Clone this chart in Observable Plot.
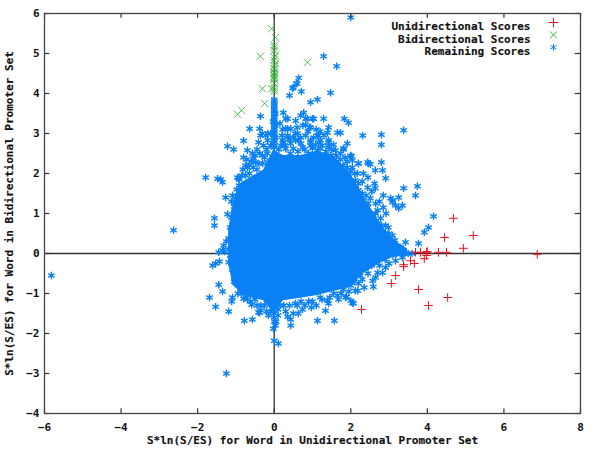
<!DOCTYPE html>
<html><head><meta charset="utf-8">
<script src="https://cdn.jsdelivr.net/npm/d3@7"></script>
<script src="https://cdn.jsdelivr.net/npm/@observablehq/plot@0.6"></script>
<style>html,body{margin:0;padding:0;background:#fff}svg{display:block}</style>
</head><body><div id="chart"></div>
<script>
const xTicks = [-6,-4,-2,0,2,4,6,8];
const yTicks = [-4,-3,-2,-1,0,1,2,3,4,5,6];
const xTitle = "S*ln(S/ES) for Word in Unidirectional Promoter Set";
const yTitle = "S*ln(S/ES) for Word in Bidirectional Promoter Set";
const seriesNames = ["Unidirectional Scores","Bidirectional Scores","Remaining Scores"];
const symbols = ["plus","times","asterisk"];
const colors = ["#f01020","#30b030","#0a80f5"];

const unidirectional = [[4.68,.88],[5.2,.45],[4.45,.4],[4.94,.13],[3.69,.03],[3.82,.03],[3.98,.03],[4.0,.05],[4.29,.03],[4.5,.03],[6.87,-.02],[3.98,-.05],[3.92,-.13],[3.56,-.18],[3.66,-.25],[3.38,-.28],[3.38,-.33],[3.17,-.55],[3.06,-.75],[3.77,-.9],[4.53,-1.1],[4.03,-1.3],[2.28,-1.4]];

const bidirectional = [[-.07,5.62],[.03,5.4],[0,5.15],[0,5.2],[0,5.08],[.03,4.95],[0,4.83],[.03,4.75],[0,4.63],[0,4.53],[0,4.45],[0,4.38],[0,4.15],[0,4.05],[-.36,4.93],[.87,4.78],[-.31,4.12],[-.07,4.12],[-.25,3.75],[-.85,3.58],[-.96,3.48],[0,4.9],[0,4.7],[0,4.5],[0,4.42],[0,4.35],[0,4.6],[0,4.25],[0,4.1]];

// the solid middle of the cloud, where the markers overlap completely
const coreX =      [-1.19,-1.08,-1.0,-.88,-.62,-.28,-.02,.24,.69,1.13,1.55,1.99,2.33,2.51,2.85,3.17,3.48];
const coreTop =    [.58,1.2,1.45,1.75,1.9,2.08,2.58,2.45,2.45,2.55,2.45,2.0,1.45,1.15,.65,.3,.12];
const coreBottom = [-.22,-.8,-.85,-1.0,-1.1,-1.18,-1.48,-1.18,-1.12,-1.05,-.95,-.85,-.5,-.4,-.2,-.08,-.07];

const remaining = [
[-5.82,-.55],[-2.63,.58],[-1.25,-3.0],[2.0,5.9],[1.29,4.93],[1.63,4.68],[.64,4.39],[.5,4.15],[.6,4.25],[.4,3.95],[.71,4.05],[1.47,4.02],[.95,3.78],[1.13,3.85],[.58,4.25],[.48,4.13],
[-.36,3.43],[-.64,3.12],[-.38,3.12],[-.8,2.82],[-1.22,2.68],[-1.06,2.6],[1.29,3.37],[1.83,3.37],[1.94,3.27],[2.31,2.95],[2.8,2.97],[2.8,2.72],[1.03,3.37],[.82,3.37],[.77,3.52],[.56,3.32],[.69,3.45],[.95,3.15],[.35,3.37],[.24,3.52],[1.65,3.02],[1.73,3.02],[1.42,3.15],[1.39,3.02],[1.91,2.75],[1.13,2.95],[1.42,2.78],[1.16,2.78],[.95,2.78],[1.42,2.65],[1.81,2.6],[.61,3.0],[.43,3.12],[.3,3.12],[.35,2.9],[.63,2.83],[.24,2.78],
[-.36,2.95],[-.22,2.95],[-.41,2.78],[-.17,2.83],[-.09,3.0],[-.31,3.0],[-.7,2.58],[-.8,2.4],[-.57,2.5],[-.75,2.2],[-.49,2.28],[-.31,2.45],[-.96,1.9],[-.15,2.28],[-.17,3.0],
[-1.79,1.9],[-1.48,1.87],[-1.4,1.85],[-1.35,1.78],[-.91,1.85],[-1.27,1.4],[-1.09,1.45],[-.96,1.45],[-1.22,.98],[-1.56,.88],[-1.56,.7],[-1.09,.58],[-1.19,.38],[-1.32,.2],[-1.45,.03],[-1.35,.08],[-1.61,-.3],[-1.53,-.25],[-1.43,-.2],[-1.19,-.22],[-1.01,-.35],[-1.01,-.43],[-1.45,-.78],[-1.35,-.95],[-1.69,-1.1],[-1.53,-1.33],[-1.09,-1.1],[-1.11,-1.2],[-1.19,-1.45],[-.8,-1.13],[-.59,-1.28],[-.41,-1.47],[-.78,-1.68],[-.57,-1.65],[-.7,2.15],[-.54,2.38],[-.93,1.88],
[-.38,-1.48],[-.36,-1.42],[-.15,-1.55],[.03,-1.8],[-.02,-1.88],[.05,-1.7],[0,-2.18],[.11,-2.25],[.35,-1.58],[.43,-1.65],[.43,-1.8],[.63,-1.5],[.74,-1.4],[.5,-1.5],[.97,-1.35],[1.34,-1.43],[1.13,-1.68],[1.57,-1.68],[1.39,-1.18],[1.42,-1.25],[1.68,-1.15],[1.89,-1.08],[2.07,-1.25],[2.0,-1.18],[2.18,-.93],[2.59,-.83],
[3.38,3.08],[2.02,2.43],[2.2,2.25],[2.46,2.25],[2.8,2.28],[2.64,2.08],[2.83,2.08],[2.91,1.88],[2.33,2.0],[2.17,2.0],[2.04,2.15],[2.62,1.75],[2.64,1.63],[2.44,1.65],[3.38,1.63],[3.74,1.68],[3.69,1.45],[3.25,1.4],[3.09,1.33],[2.85,1.45],[3.35,1.2],[3.25,1.13],[3.17,1.2],[4.03,.65],[3.92,.53],[3.77,.25],[3.43,.28],[3.09,.45],[2.91,.7],[2.98,.65],[2.7,1.08],[2.78,.88],[2.64,.58],[2.59,.33],[2.83,.4],[2.98,.25],[3.22,.08],[2.44,1.15],[2.51,1.38],[2.33,1.33],[2.2,1.58],[2.12,1.83],
[4.16,.93],[3.35,-.1],[3.17,-.18],[2.91,-.35],[2.7,-.48],[2.38,-.38],[2.57,-.68],[2.12,-.93],[1.86,-1.1],[2.04,-1.23],[2.83,-.48],[3.04,1.38],[3.09,1.28],
[.3,3.37],[.87,3.37],[1.0,3.37],[.92,3.15],[1.16,2.95],[1.21,2.83],[1.42,2.83],[1.42,2.7],[.95,2.83],[.95,2.7],[.35,3.12],[.35,2.95],[.56,2.83],[.22,2.83],[.43,2.75],[.69,2.9],[.74,2.65],[1.99,2.45],[2.04,2.33],[2.2,2.25],[2.44,2.28],[2.51,2.23],[1.81,2.63],[1.6,2.58],[1.73,2.5],[1.47,2.45],[1.39,2.33],[1.0,2.63],[1.13,2.58],[1.91,2.15],
[0,3.85],[0,3.8],[0,3.75],[0,3.7],[0,3.65],[0,3.6],[0,3.55],[0,3.5],[0,3.45],[0,3.4],[0,3.35],[0,3.3],[0,3.25],[0,3.2],[0,3.15],[0,3.1],[0,3.05],[0,3.0],[0,2.95],[0,2.9],[0,2.85],[0,2.8],[0,2.75],[0,2.7],[0,2.65],[.03,3.5],[.03,3.2],[.03,2.9],[-.03,3.3],[-.03,3.0],
[0,-1.2],[0,-1.3],[0,-1.4],[0,-1.5],[0,-1.6],[0,-1.7],[2.5,0],[2.6,0],[2.7,0],[2.8,0],[2.9,0],[3.0,0],[3.1,0],[3.2,0],[3.3,0],[3.4,0],[3.5,0],[3.6,0],[3.3,.03],[3.1,-.03],
[-1.1,.1],[-1.15,-.05],[-.95,.5],[-1.0,.85],[-.9,1.15],[-1.05,1.25],[-.85,1.55],[-.75,1.95],[-.65,2.0],[-.45,2.1],[-1.0,-.6],[-.95,-.8],[-.85,-1.0],[-.7,-1.15],[-.45,-1.3],[.25,-1.3],[.55,-1.25],[.9,-1.2],[1.2,-1.1],[1.55,-1.0],[1.8,-.9],[2.1,-.7],[2.25,-.55],[2.55,-.3],[2.1,1.6],[2.3,1.5],[2.45,1.25],[2.65,1.0],[2.7,.75],[2.9,.5],[3.1,.2],
[.12,2.6],[.2,2.95],[.3,2.62],[.42,2.5],[.5,2.62],[.55,3.0],[.62,2.55],[.7,2.75],[.8,2.6],[.82,2.95],[.88,3.05],[.9,2.5],[1.03,2.9],[1.08,2.72],[1.2,2.62],[1.25,2.7],[1.3,2.95],[1.35,2.55],[1.5,2.6],[1.55,2.72],[1.62,2.45],[1.72,2.35],[1.85,2.4],[1.9,2.3],[2.0,2.05],[2.1,2.0],[1.8,2.2],[.15,3.25],[.22,3.1],[.18,2.7],[.75,3.2],[.6,3.15],[.82,3.22],[1.1,3.1],[1.2,3.05],[.5,2.9],[.28,2.7],[.4,2.85],
[-.1,2.7],[-.2,2.6],[-.28,2.7],[-.25,2.4],[-.38,2.5],[-.45,2.6],[-.5,2.45],[-.6,2.3],[-.65,2.2],[-.72,2.35],[-.82,2.1],[-.85,1.95],[-.3,2.25],[-.18,2.5],[-.4,2.25],[-.55,2.15],[-.92,1.7],[-.98,1.6],[-1.02,1.4],[-1.12,1.3],[-1.05,1.1],[-1.12,.9],[-1.0,.7],[-1.15,.65],[-1.05,.4],[-1.25,.3],[-1.2,.1],[-1.3,.05],[-1.1,-.2],[-1.1,-.4],
[-1.05,-.7],[-.9,-.7],[-.95,-1.0],[-.8,-.95],[-.72,-1.05],[-.62,-1.2],[-.5,-1.15],[-.35,-1.3],[-.25,-1.3],[-.2,-1.45],[-.1,-1.45],[.1,-1.4],[.1,-1.55],[.15,-1.3],[.4,-1.3],[.3,-1.45],[.6,-1.3],[.7,-1.2],[.8,-1.3],[1.0,-1.2],[1.1,-1.3],[1.25,-1.15],[1.45,-1.1],[1.65,-1.05],[1.75,-1.0],[1.95,-.95],[2.0,-.8],[2.2,-.75],[2.3,-.65],[2.35,-.85],[2.45,-.5],[2.65,-.6],[2.75,-.3],[2.5,-.2],[2.9,-.15],[3.0,-.25],
[2.15,1.4],[2.25,1.25],[2.35,1.1],[2.55,.95],[2.62,.8],[2.4,1.45],[2.55,1.55],[2.3,1.8],[2.45,1.9],[2.75,1.3],[2.85,1.15],[2.92,1.0],[2.65,1.25],[2.8,.7],[3.0,.5],[2.75,.5],[3.05,.05],[3.3,.15],[3.15,.33],[2.7,.3],[2.85,.2],[3.0,.1],[2.2,1.75],[2.5,.65],[2.4,.85]
];

const pts = a => a.map(([x,y]) => ({x,y}));
const core = coreX.map((x,i) => ({x, y1: coreTop[i], y2: coreBottom[i]}));
const legendRows = seriesNames.map((name,i) => ({name, symbol: symbols[i], color: colors[i], i}));
const axisText = {fontFamily:"'DejaVu Sans Mono',monospace", fontWeight:"bold", fontSize:11, fill:"#111", stroke:"#111", strokeWidth:0.15};
const tick = {stroke:"#333", strokeWidth:1.2};

const chart = Plot.plot({
  width:600, height:450,
  marginLeft:44, marginRight:20, marginTop:13, marginBottom:37,
  style:{background:"#fff", fontFamily:"'DejaVu Sans Mono',monospace", fontSize:"11px", fontWeight:"bold", color:"#111"},
  x:{domain:[-6,8]}, y:{domain:[-4,6]},
  symbol:{type:"identity"},
  marks:[
    Plot.ruleX([0],{stroke:"#333", strokeWidth:1.3}),
    Plot.ruleY([0],{stroke:"#333", strokeWidth:1.3}),
    Plot.dot(pts(bidirectional),{x:"x",y:"y",symbol:"times",r:3.4,stroke:colors[1],strokeWidth:1,strokeOpacity:.8}),
    Plot.areaY(core,{x:"x",y1:"y1",y2:"y2",fill:colors[2]}),
    Plot.dot(pts(remaining),{x:"x",y:"y",symbol:"asterisk",r:3.5,stroke:colors[2],strokeWidth:1.4}),
    Plot.dot(pts(unidirectional),{x:"x",y:"y",symbol:"plus",r:2.9,stroke:colors[0],strokeWidth:1}),
    Plot.ruleX(xTicks,{x:d=>d,y1:-4,y2:-3.88,...tick}),
    Plot.ruleX(xTicks,{x:d=>d,y1:6,y2:5.88,...tick}),
    Plot.ruleY(yTicks,{y:d=>d,x1:-6,x2:-5.86,...tick}),
    Plot.ruleY(yTicks,{y:d=>d,x1:8,x2:7.86,...tick}),
    Plot.frame({stroke:"#444", strokeWidth:1.3}),
    Plot.axisX({anchor:"bottom",ticks:xTicks,tickSize:0,tickPadding:10,label:null}),
    Plot.axisY({anchor:"left",ticks:yTicks,tickSize:0,tickPadding:5,label:null}),
    Plot.text([xTitle],{frameAnchor:"bottom",dy:30,...axisText,textAnchor:"middle"}),
    Plot.text([yTitle],{frameAnchor:"left",dx:-35,rotate:-90,...axisText,textAnchor:"middle"}),
    Plot.text(legendRows,{text:"name",frameAnchor:"top-right",textAnchor:"end",...axisText,
      render(index,scales,values,dims,ctx,next){const g=next(index,scales,values,dims,ctx);
        d3.select(g).selectAll("text").attr("transform",(_, i)=>`translate(530,${13+9+12.4*i})`);return g;}}),
    Plot.dot(legendRows,{frameAnchor:"top-right",symbol:"symbol",stroke:"color",r:3.2,strokeWidth:1,
      render(index,scales,values,dims,ctx,next){const g=next(index,scales,values,dims,ctx);
        d3.select(g).selectAll("path").attr("transform",(_, i)=>`translate(553,${13+9+12.4*i})`);return g;}})
  ]
});
document.getElementById("chart").appendChild(chart);
</script></body></html>
